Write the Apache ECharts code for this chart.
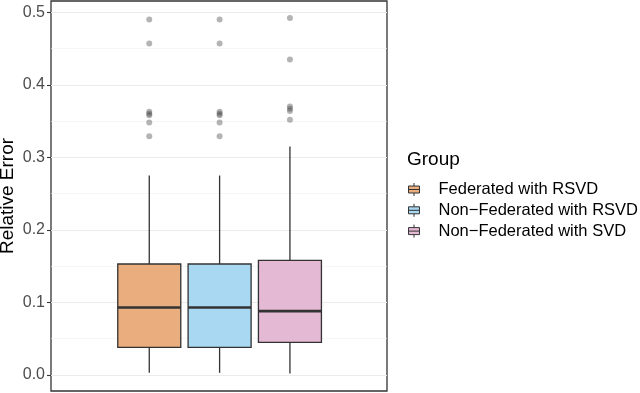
<!DOCTYPE html>
<html>
<head>
<meta charset="utf-8">
<script src="https://cdn.jsdelivr.net/npm/echarts@6/dist/echarts.min.js"></script>
<style>
  html, body { margin: 0; padding: 0; background: #fff; }
  #chart { width: 640px; height: 393px; }
</style>
</head>
<body>
<div id="chart"></div>
<script>
// groups and box stats: [min, Q1, median, Q3, max]
var groups = ['Federated with RSVD', 'Non\u2212Federated with RSVD', 'Non\u2212Federated with SVD'];
var fedRsvdBox = [0.003, 0.038, 0.093, 0.153, 0.275];
var nonFedRsvdBox = [0.003, 0.038, 0.093, 0.153, 0.275];
var nonFedSvdBox = [0.002, 0.045, 0.088, 0.158, 0.315];
// outliers
var fedRsvdOut = [0.490, 0.457, 0.363, 0.360, 0.358, 0.348, 0.329];
var nonFedRsvdOut = [0.490, 0.457, 0.363, 0.360, 0.358, 0.348, 0.329];
var nonFedSvdOut = [0.492, 0.435, 0.370, 0.367, 0.364, 0.352];
var yTicks = [0, 0.1, 0.2, 0.3, 0.4, 0.5];
var fills = ['#e9ad7e', '#a9d8f2', '#e4b9d3'];

var boxes = [fedRsvdBox, nonFedRsvdBox, nonFedSvdBox];
var outs = [fedRsvdOut, nonFedRsvdOut, nonFedSvdOut];

var font = "'Liberation Sans', Arial, Helvetica, sans-serif";
var boxIcon = 'path://M5.5,0 L5.5,3 M0,3 L11,3 L11,10 L0,10 Z M0,6.5 L11,6.5 M5.5,10 L5.5,13 M25,6.5';

// 画箱子
function renderBox(params, api) {
    var x = api.value(0);
    var lo = api.coord([x, api.value(1)]);
    var q1 = api.coord([x, api.value(2)]);
    var md = api.coord([x, api.value(3)]);
    var q3 = api.coord([x, api.value(4)]);
    var hi = api.coord([x, api.value(5)]);
    var half = api.size([1, 0])[0] * 0.448;
    var ln = { stroke: '#333', lineWidth: 1.3 };
    return {
        type: 'group',
        children: [
            { type: 'line', shape: { x1: lo[0], y1: lo[1], x2: q1[0], y2: q1[1] }, style: ln },
            { type: 'line', shape: { x1: q3[0], y1: q3[1], x2: hi[0], y2: hi[1] }, style: ln },
            {
                type: 'rect',
                shape: { x: q3[0] - half, y: q3[1], width: half * 2, height: q1[1] - q3[1] },
                style: { fill: api.visual('color'), stroke: '#333', lineWidth: 1.3 }
            },
            {
                type: 'line',
                shape: { x1: md[0] - half, y1: md[1], x2: md[0] + half, y2: md[1] },
                style: { stroke: '#333', lineWidth: 2.6 }
            }
        ]
    };
}

var series = [];
groups.forEach(function (g, i) {
    series.push({
        name: g,
        type: 'custom',
        xAxisIndex: 2,
        yAxisIndex: 2,
        itemStyle: { color: fills[i] },
        renderItem: renderBox,
        data: [[i].concat(boxes[i])]
    });
});
groups.forEach(function (g, i) {
    series.push({
        type: 'scatter',
        xAxisIndex: 2,
        yAxisIndex: 2,
        symbolSize: 6,
        itemStyle: { color: 'rgba(60,60,60,0.48)' },
        z: 5,
        data: outs[i].map(function (v) { return [i, v]; })
    });
});

var myChart = echarts.init(document.getElementById('chart'));
var option = {
    animation: false,
    textStyle: { fontFamily: font },
    title: {
        text: 'Group',
        left: 407,
        top: 150,
        padding: 0,
        textStyle: { fontFamily: font, fontSize: 19, fontWeight: 'normal', color: '#000' }
    },
    legend: {
        orient: 'vertical',
        left: 408,
        top: 181,
        padding: 0,
        itemWidth: 25,
        itemHeight: 13,
        itemGap: 3.8,
        selectedMode: false,
        textStyle: { fontFamily: font, fontSize: 16.5, color: '#000', padding: 0 },
        data: groups.map(function (g, i) {
            return {
                name: g,
                icon: boxIcon,
                itemStyle: { color: fills[i], borderColor: '#333', borderWidth: 1 }
            };
        })
    },
    grid: [
        // 面板边框
        { left: 51, right: 253, top: 1, bottom: 2, outerBoundsMode: 'none', show: true, borderColor: '#333', borderWidth: 1.3, backgroundColor: 'transparent' },
        // 网格线
        { left: 51, right: 253, top: 12.3, bottom: 18, outerBoundsMode: 'none' },
        // 箱线
        { left: 114.1, right: 314.9, top: 12.3, bottom: 18, outerBoundsMode: 'none' }
    ],
    xAxis: [
        { gridIndex: 0, type: 'value', show: false },
        { gridIndex: 1, type: 'category', data: [''], show: false },
        { gridIndex: 2, type: 'category', data: groups, show: false }
    ],
    yAxis: [
        {
            gridIndex: 0,
            type: 'value',
            min: 0,
            max: 1,
            name: 'Relative Error',
            nameLocation: 'middle',
            nameGap: 34,
            nameTextStyle: { fontFamily: font, fontSize: 19, color: '#000' },
            axisLine: { show: false },
            axisTick: { show: false },
            axisLabel: { show: false },
            splitLine: { show: false }
        },
        {
            gridIndex: 1,
            type: 'value',
            min: yTicks[0],
            max: yTicks[yTicks.length - 1],
            interval: 0.1,
            axisLine: { show: false },
            axisTick: { show: true, length: 4, lineStyle: { color: '#333', width: 1.1 } },
            axisLabel: {
                margin: 6,
                fontFamily: font,
                fontSize: 16,
                color: '#4d4d4d',
                formatter: function (v) { return v.toFixed(1); }
            },
            splitLine: { show: true, lineStyle: { color: '#ebebeb', width: 1.1 } },
            minorTick: { show: false, splitNumber: 2 },
            minorSplitLine: { show: true, lineStyle: { color: '#f0f0f0', width: 0.6 } }
        },
        {
            gridIndex: 2,
            type: 'value',
            min: yTicks[0],
            max: yTicks[yTicks.length - 1],
            show: false
        }
    ],
    series: series
};
if (option && typeof option === "object") {
    myChart.setOption(option, true);
}
</script>
</body>
</html>
